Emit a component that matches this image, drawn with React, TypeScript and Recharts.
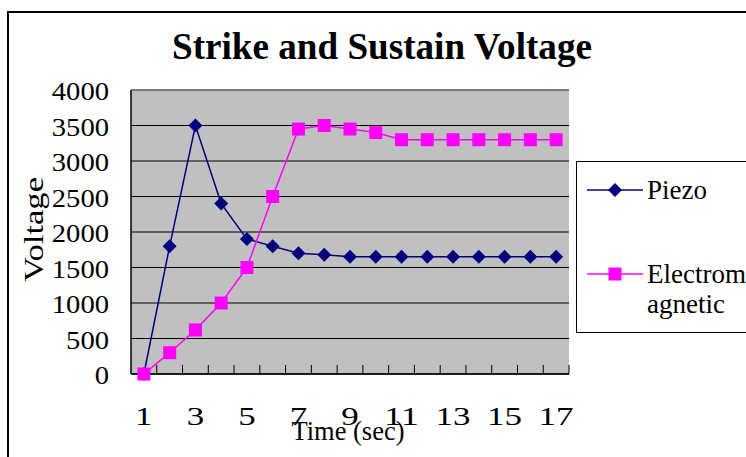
import React from "react";
import {
    ComposedChart,
    Line,
    XAxis,
    YAxis,
    CartesianGrid,
    ReferenceLine,
    Legend,
} from "recharts";

// time in seconds
const times = [1, 2, 3, 4, 5, 6, 7, 8, 9, 10, 11, 12, 13, 14, 15, 16, 17];
const piezo = [0, 1800, 3500, 2400, 1900, 1800, 1700, 1680, 1650, 1650, 1650, 1650, 1650, 1650, 1650, 1650, 1650];
const electro = [0, 300, 620, 1000, 1500, 2500, 3450, 3500, 3450, 3400, 3300, 3300, 3300, 3300, 3300, 3300, 3300];
const yTicks = [0, 500, 1000, 1500, 2000, 2500, 3000, 3500, 4000];
const seriesOrder = ["Piezo", "Electromagnetic"];

const SERIF = "'Liberation Serif', 'Times New Roman', serif";
const NAVY = "#000080";
const MAGENTA = "#FF00FF";

const data = times.map((t, i) => ({
    t,
    Piezo: piezo[i],
    Electromagnetic: electro[i],
}));

const Diamond = (p: any) => {
    const { cx, cy, index } = p;
    if (cx == null || cy == null) return null;
    return (
        <path
            key={`dia-${index}`}
            d={`M${cx},${cy - 7}L${cx + 7},${cy}L${cx},${cy + 7}L${cx - 7},${cy}Z`}
            fill={NAVY}
        />
    );
};

const Square = (p: any) => {
    const { cx, cy, index } = p;
    if (cx == null || cy == null) return null;
    return <rect key={`sq-${index}`} x={cx - 6.5} y={cy - 6.5} width={13} height={13} fill={MAGENTA} />;
};

// y labels are drawn a bit wide, like the old office chart
const YTick = (p: any) => {
    const s = String(p.payload.value);
    return (
        <text
            x={p.x}
            y={p.y}
            dy={10}
            textAnchor="end"
            fontSize={26}
            fontFamily={SERIF}
            fill="#000"
            textLength={s.length * 14.3}
            lengthAdjust="spacingAndGlyphs"
        >
            {s}
        </text>
    );
};

// tick marks sit between categories and point up into the plot
const XTick = (p: any) => {
    const { x, y, payload, index } = p;
    const off = payload?.offset ?? 0;
    const s = String(payload.value);
    return (
        <g>
            <line x1={x + off} x2={x + off} y1={y} y2={y - 9} stroke="#000" strokeWidth={1} />
            {index % 2 === 0 && (
                <text
                    x={x}
                    y={y}
                    dy={51}
                    textAnchor="middle"
                    fontSize={26}
                    fontFamily={SERIF}
                    fill="#000"
                    textLength={s.length * 17.5}
                    lengthAdjust="spacingAndGlyphs"
                >
                    {s}
                </text>
            )}
        </g>
    );
};

const LegendBox = (props: any) => {
    const items = [...(props.payload || [])].sort(
        (a: any, b: any) => seriesOrder.indexOf(a.dataKey) - seriesOrder.indexOf(b.dataKey)
    );
    return (
        <div
            style={{
                position: "relative",
                width: 200,
                height: 172,
                border: "1px solid #000",
                boxSizing: "border-box",
                background: "#fff",
                fontFamily: SERIF,
            }}
        >
            {items.map((it: any, i: number) => {
                const cy = i === 0 ? 28 : 112;
                const isPiezo = it.dataKey === "Piezo";
                return (
                    <React.Fragment key={it.value}>
                        <svg
                            width={56}
                            height={16}
                            style={{ position: "absolute", left: 10, top: cy - 8 }}
                        >
                            <line x1={0} x2={56} y1={8} y2={8} stroke={it.color} strokeWidth={1.5} />
                            {isPiezo ? (
                                <path d="M28,1L35,8L28,15L21,8Z" fill={NAVY} />
                            ) : (
                                <rect x={21.5} y={1.5} width={13} height={13} fill={MAGENTA} />
                            )}
                        </svg>
                        <div
                            style={{
                                position: "absolute",
                                left: 70,
                                top: cy - 15,
                                width: 104,
                                fontSize: 27,
                                lineHeight: "30px",
                                wordBreak: "break-all",
                                color: "#000",
                                fontFamily: SERIF,
                            }}
                        >
                            {it.value}
                        </div>
                    </React.Fragment>
                );
            })}
        </div>
    );
};

export default function App() {
    return (
        <div
            style={{
                position: "absolute",
                left: 0,
                top: 0,
                width: 746,
                height: 457,
                overflow: "hidden",
                background: "#fff",
            }}
        >
            {/* chart frame, runs off the page on the right and bottom */}
            <div
                style={{
                    position: "absolute",
                    left: 7,
                    top: 11,
                    width: 800,
                    height: 500,
                    border: "2px solid #000",
                    boxSizing: "border-box",
                }}
            />
            <svg width={746} height={80} style={{ position: "absolute", left: 0, top: 0 }}>
                <text
                    x={382}
                    y={59}
                    textAnchor="middle"
                    fontSize={38}
                    fontWeight="bold"
                    fontFamily={SERIF}
                    fill="#000"
                    textLength={420}
                    lengthAdjust="spacingAndGlyphs"
                >
                    Strike and Sustain Voltage
                </text>
            </svg>
            <div style={{ position: "absolute", left: 0, top: 0 }}>
                <ComposedChart
                    width={746}
                    height={457}
                    data={data}
                    margin={{ top: 90, right: 177, bottom: 43, left: 51 }}
                >
                    <CartesianGrid vertical={false} stroke="#000" fill="#C0C0C0" fillOpacity={1} />
                    <XAxis
                        dataKey="t"
                        scale="band"
                        height={40}
                        interval={0}
                        tickSize={0}
                        tickMargin={0}
                        tickLine={false}
                        axisLine={{ stroke: "#000", strokeWidth: 1.5 }}
                        tick={<XTick />}
                        label={(p: any) => {
                            const vb = p.viewBox || { x: 131, y: 374, width: 438 };
                            return (
                                <text
                                    x={vb.x + vb.width / 2 - 2}
                                    y={vb.y + 66}
                                    textAnchor="middle"
                                    fontSize={27}
                                    fontFamily={SERIF}
                                    fill="#000"
                                    textLength={113}
                                    lengthAdjust="spacingAndGlyphs"
                                >
                                    Time (sec)
                                </text>
                            );
                        }}
                    />
                    <YAxis
                        width={80}
                        domain={[0, 4000]}
                        ticks={yTicks}
                        interval={0}
                        tickSize={0}
                        tickMargin={22}
                        tickLine={false}
                        axisLine={{ stroke: "#000", strokeWidth: 1.5 }}
                        tick={<YTick />}
                        label={(p: any) => {
                            const vb = p.viewBox || { x: 51, y: 90, height: 284 };
                            const cx = vb.x - 8;
                            const cy = vb.y + vb.height / 2 - 2.5;
                            return (
                                <text
                                    x={cx}
                                    y={cy}
                                    transform={`rotate(-90, ${cx}, ${cy})`}
                                    textAnchor="middle"
                                    fontSize={27}
                                    fontFamily={SERIF}
                                    fill="#000"
                                    textLength={105}
                                    lengthAdjust="spacingAndGlyphs"
                                >
                                    Voltage
                                </text>
                            );
                        }}
                    />
                    <YAxis
                        yAxisId="r"
                        orientation="right"
                        width={0}
                        domain={[0, 4000]}
                        tick={false}
                        tickLine={false}
                        axisLine={{ stroke: "#808080", strokeWidth: 1.5 }}
                    />
                    <ReferenceLine y={4000} stroke="#808080" strokeWidth={1.5} />
                    <Legend
                        layout="horizontal"
                        verticalAlign="middle"
                        align="center"
                        content={<LegendBox />}
                        wrapperStyle={{ left: 576, top: 161, width: 200, height: 172 }}
                    />
                    <Line
                        dataKey="Piezo"
                        stroke={NAVY}
                        strokeWidth={1.5}
                        dot={Diamond}
                        activeDot={false}
                        isAnimationActive={false}
                    />
                    <Line
                        dataKey="Electromagnetic"
                        stroke={MAGENTA}
                        strokeWidth={1.5}
                        dot={Square}
                        activeDot={false}
                        isAnimationActive={false}
                    />
                </ComposedChart>
            </div>
        </div>
    );
}
